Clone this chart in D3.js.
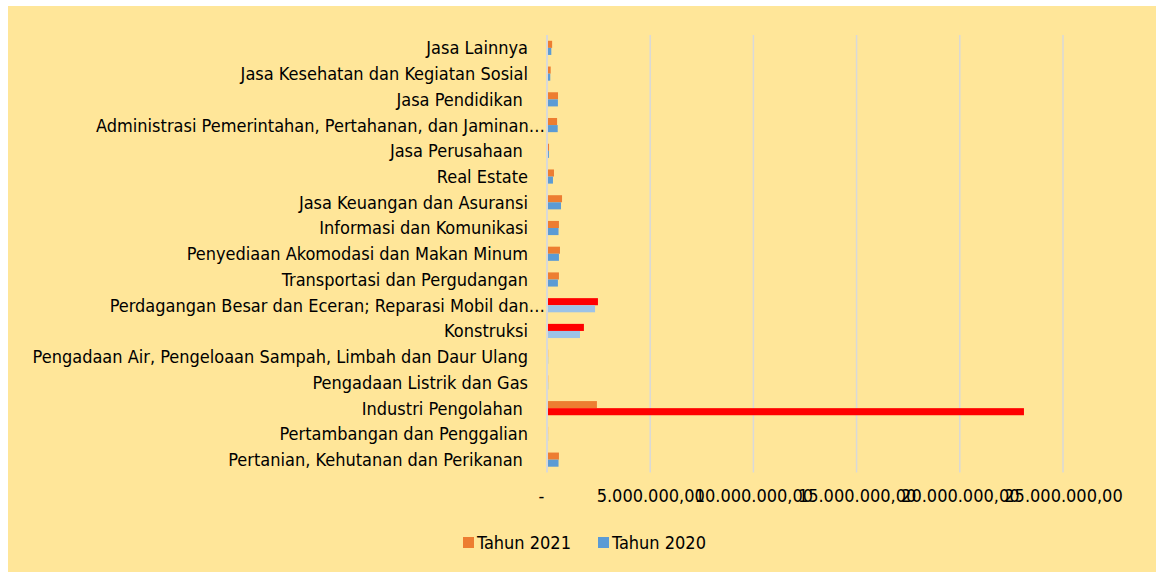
<!DOCTYPE html>
<html>
<head>
<meta charset="utf-8">
<script src="https://cdn.jsdelivr.net/npm/d3@7"></script>
<style>
    body { margin: 0; background: #fff; }
    text { font-family: "DejaVu Sans Condensed", "DejaVu Sans", sans-serif; fill: #000; white-space: pre; }
</style>
</head>
<body>
<div id="vis"></div>
<script>
// categories, top to bottom as shown
let categories = [
    'Jasa Lainnya',
    'Jasa Kesehatan dan Kegiatan Sosial',
    'Jasa Pendidikan ',
    'Administrasi Pemerintahan, Pertahanan, dan Jaminan…',
    'Jasa Perusahaan ',
    'Real Estate',
    'Jasa Keuangan dan Asuransi',
    'Informasi dan Komunikasi',
    'Penyediaan Akomodasi dan Makan Minum',
    'Transportasi dan Pergudangan',
    'Perdagangan Besar dan Eceran; Reparasi Mobil dan…',
    'Konstruksi',
    'Pengadaan Air, Pengeloaan Sampah, Limbah dan Daur Ulang',
    'Pengadaan Listrik dan Gas',
    'Industri Pengolahan ',
    'Pertambangan dan Penggalian',
    'Pertanian, Kehutanan dan Perikanan '
];

let tahun2021 = [200000, 130000, 485000, 440000, 50000, 290000, 680000, 530000, 580000, 530000,
    2420000, 1740000, 8000, 9000, 2370000, 6000, 530000];
let tahun2020 = [160000, 110000, 480000, 470000, 45000, 240000, 630000, 510000, 530000, 480000,
    2280000, 1550000, 7000, 8000, 23060000, 5000, 510000];

let seriesNames = ['Tahun 2021', 'Tahun 2020'];
let xTicks = [0, 5000000, 10000000, 15000000, 20000000, 25000000];

// points that were recoloured in the original chart
let redPoints = {
    'Tahun 2021': ['Perdagangan Besar dan Eceran; Reparasi Mobil dan…', 'Konstruksi'],
    'Tahun 2020': ['Industri Pengolahan ']
};
let palePoints = {
    'Tahun 2020': ['Perdagangan Besar dan Eceran; Reparasi Mobil dan…', 'Konstruksi']
};

let W = 1156, H = 572;
let plot = {left: 547, right: 1063, top: 35, bottom: 472.5};
let labelRight = 528;
let fontSize = '18px';

let seriesColor = {'Tahun 2021': '#ED7D31', 'Tahun 2020': '#5B9BD5'};

let rows = categories.map((c, i) => ({
    category: c,
    values: [
        {series: 'Tahun 2021', value: tahun2021[i]},
        {series: 'Tahun 2020', value: tahun2020[i]}
    ]
}));

function barColor(d, cat) {
    if ((redPoints[d.series] || []).includes(cat)) return '#FF0000';
    if ((palePoints[d.series] || []).includes(cat)) return '#9DC3E6';
    return seriesColor[d.series];
}

let svg = d3.select('#vis')
    .append('svg')
    .attr('width', W)
    .attr('height', H);

svg.append('rect')
    .attr('x', 8)
    .attr('y', 6)
    .attr('width', W - 8)
    .attr('height', H - 6)
    .attr('fill', '#FFE699');

let xScale = d3.scaleLinear()
    .domain([0, 25000000])
    .range([plot.left, plot.right]);

let yScale = d3.scaleBand()
    .domain(categories)
    .range([plot.top, plot.bottom])
    .paddingInner(0.45)
    .paddingOuter(0.225);

let ySub = d3.scaleBand()
    .domain(seriesNames)
    .range([0, yScale.bandwidth()]);

// gridlines
svg.append('g')
    .selectAll('line')
    .data(xTicks)
    .enter()
    .append('line')
    .attr('x1', d => xScale(d))
    .attr('x2', d => xScale(d))
    .attr('y1', plot.top)
    .attr('y2', plot.bottom)
    .attr('stroke', '#D9D9D9')
    .attr('stroke-width', d => d === 0 ? 2 : 1.5);

// x axis labels
let locale = d3.formatLocale({decimal: ',', thousands: '.', grouping: [3], currency: ['', '']});
let fmt = locale.format(',.2f');

let xAxis = d3.axisBottom(xScale)
    .tickValues(xTicks)
    .tickSize(0)
    .tickPadding(0)
    .tickFormat(d => d === 0 ? '-' : fmt(d));

let xGuide = svg.append('g')
    .attr('transform', 'translate(0,' + 502 + ')')
    .call(xAxis);
xGuide.select('.domain').remove();
xGuide.selectAll('text')
    .attr('y', 0)
    .attr('dy', 0)
    .attr('dx', d => d === 0 ? -6 : 0)
    .style('font-size', fontSize)
    .style('font-family', '"DejaVu Sans Condensed", "DejaVu Sans", sans-serif')
    .attr('fill', '#000');

// bars
let group = svg.selectAll('g.cat')
    .data(rows)
    .enter()
    .append('g')
    .attr('class', 'cat')
    .attr('transform', d => 'translate(0,' + yScale(d.category) + ')');

group.selectAll('rect')
    .data(d => d.values.map(v => Object.assign({cat: d.category}, v)))
    .enter()
    .append('rect')
    .attr('x', xScale(0) + 1)
    .attr('y', d => ySub(d.series))
    .attr('width', d => xScale(d.value) - xScale(0))
    .attr('height', ySub.bandwidth())
    .attr('fill', d => barColor(d, d.cat));

// category labels
svg.append('g')
    .selectAll('text')
    .data(categories)
    .enter()
    .append('text')
    .attr('x', d => d.endsWith('…') ? labelRight + 17 : labelRight)
    .attr('y', d => yScale(d) + yScale.bandwidth() / 2)
    .attr('dy', '0.36em')
    .attr('text-anchor', 'end')
    .style('font-size', fontSize)
    .text(d => d);

// legend
let legend = svg.append('g')
    .selectAll('g')
    .data(seriesNames)
    .enter()
    .append('g')
    .attr('transform', (d, i) => 'translate(' + (463 + i * 135) + ',537)');

legend.append('rect')
    .attr('width', 11)
    .attr('height', 11)
    .attr('fill', d => seriesColor[d]);

legend.append('text')
    .attr('x', 14)
    .attr('y', 12)
    .style('font-size', fontSize)
    .text(d => d);
</script>
</body>
</html>
